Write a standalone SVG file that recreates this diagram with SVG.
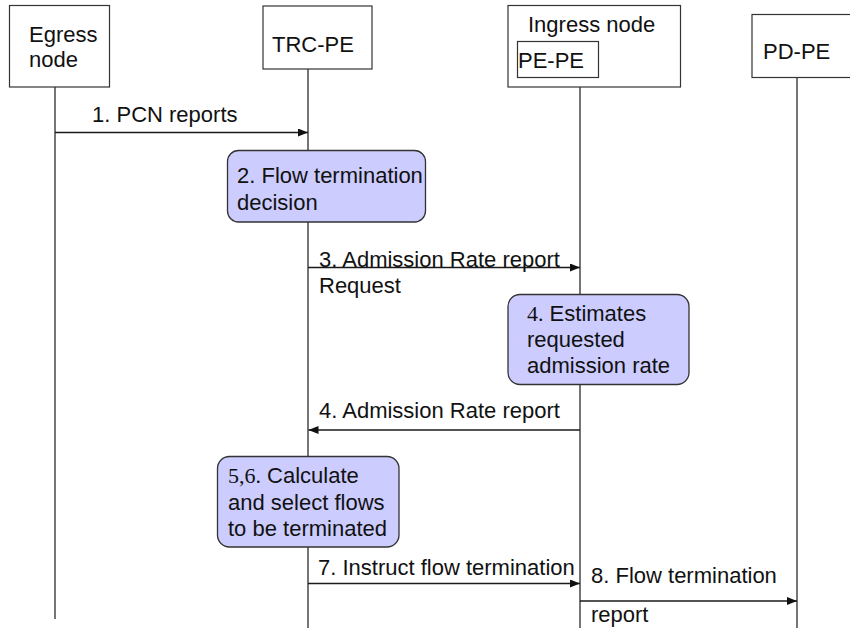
<svg xmlns="http://www.w3.org/2000/svg" width="850" height="628" viewBox="0 0 850 628">
<style>
.box{fill:#ffffff;stroke:#333333;stroke-width:1.2}
.act{fill:#ccccff;stroke:#333333;stroke-width:1.3}
.life{stroke:#1a1a1a;stroke-width:1.2;fill:none}
.msg{stroke:#1a1a1a;stroke-width:1.5;fill:none;marker-end:url(#arr)}
text{font-family:"Liberation Sans",Arial,sans-serif;font-size:22px;fill:#111111}
.serif{font-family:"Liberation Serif","Times New Roman",serif}
</style>
<defs>
<marker id="arr" viewBox="0 0 10 8" refX="10" refY="4" markerWidth="10" markerHeight="8" markerUnits="userSpaceOnUse" orient="auto">
<path d="M0,0 L10,4 L0,8 Z" fill="#111111"/>
</marker>
</defs>
<g id="lifelines">
<line class="life" x1="55" y1="87" x2="55" y2="619"/>
<line class="life" x1="308" y1="69" x2="308" y2="628"/>
<line class="life" x1="580" y1="77" x2="580" y2="628"/>
<line class="life" x1="797" y1="77" x2="797" y2="628"/>
</g>
<g id="egress">
<rect class="box" x="9.5" y="5.5" width="100" height="81.5"/>
<text x="29" y="42">Egress</text>
<text x="29" y="67">node</text>
</g>
<g id="trc-pe">
<rect class="box" x="263" y="6" width="109" height="63"/>
<text x="272" y="52">TRC-PE</text>
</g>
<g id="ingress">
<rect class="box" x="508" y="5.5" width="172.5" height="81.5"/>
<text x="528" y="32">Ingress node</text>
<rect class="box" x="517.5" y="41.5" width="81" height="36"/>
<text x="518" y="68">PE-PE</text>
</g>
<g id="pd-pe">
<rect class="box" x="752" y="14.5" width="110" height="63"/>
<text x="763" y="59">PD-PE</text>
</g>
<g id="connectors">
<line class="msg" x1="55" y1="132.5" x2="308" y2="132.5"/>
<line class="msg" x1="308" y1="267.5" x2="580" y2="267.5"/>
<line class="msg" x1="580" y1="430" x2="308.5" y2="430"/>
<line class="msg" x1="308" y1="583.5" x2="580" y2="583.5"/>
<line class="msg" x1="580" y1="601" x2="797" y2="601"/>
</g>
<g id="labels">
<text x="92" y="122">1. PCN reports</text>
<text x="319" y="267">3. Admission Rate report</text>
<text x="319" y="293">Request</text>
<text x="319" y="418">4. Admission Rate report</text>
<text x="318" y="575">7. Instruct flow termination</text>
<text x="591" y="583">8. Flow termination</text>
<text x="591" y="622">report</text>
</g>
<g id="step2">
<rect class="act" x="227.5" y="150.5" width="198" height="71.5" rx="11"/>
<text x="237" y="183">2. Flow termination</text>
<text x="237" y="210">decision</text>
</g>
<g id="step4">
<rect class="act" x="508" y="294.5" width="181" height="90" rx="12"/>
<text x="527" y="321"><tspan class="serif">4.</tspan> Estimates</text>
<text x="527" y="347">requested</text>
<text x="527" y="373">admission rate</text>
</g>
<g id="step56">
<rect class="act" x="217.5" y="456.5" width="181.5" height="90.5" rx="12"/>
<text x="228" y="483"><tspan class="serif">5,6.</tspan> Calculate</text>
<text x="228" y="510">and select flows</text>
<text x="228" y="536">to be terminated</text>
</g>
</svg>
